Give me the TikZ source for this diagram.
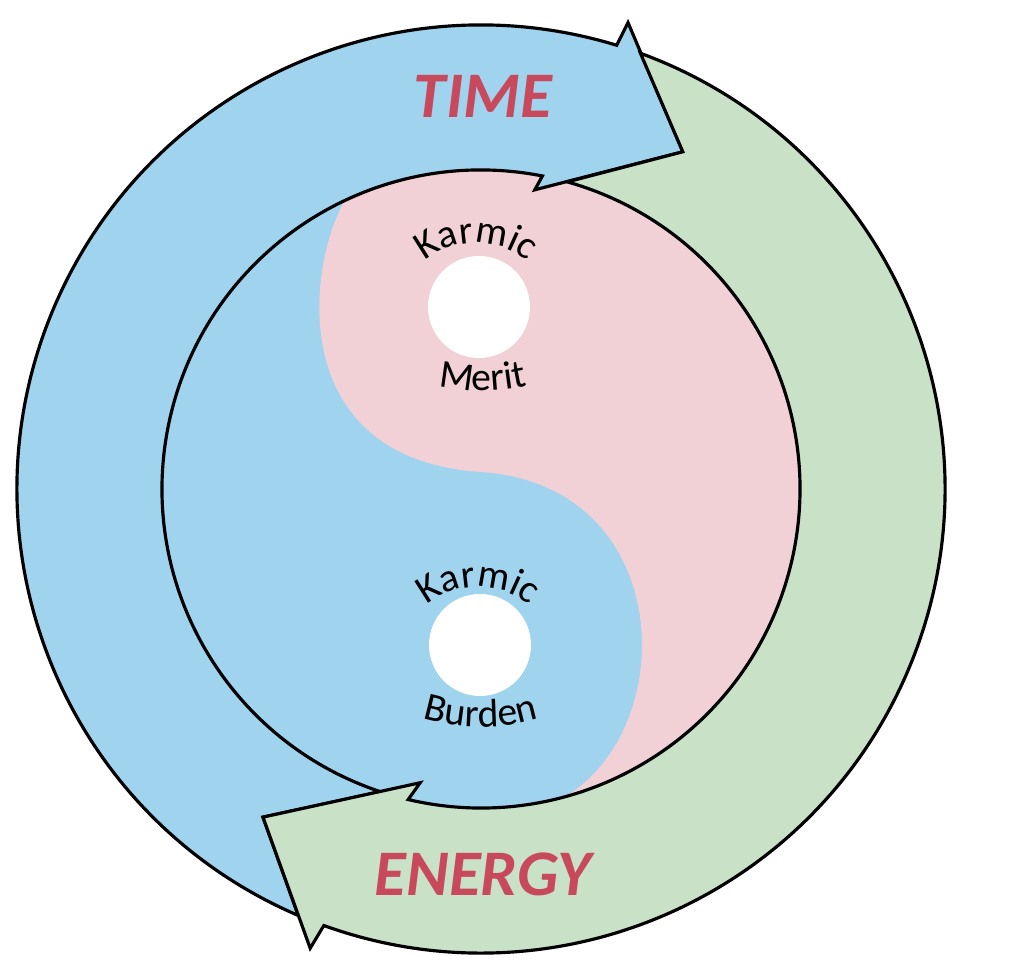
\documentclass[tikz,border=0pt]{standalone}
\usepackage{fontspec}
\setmainfont{Carlito}
\usepackage{xcolor}
\definecolor{timeblue}{RGB}{160,211,238}
\definecolor{energygreen}{RGB}{200,225,199}
\definecolor{meritpink}{RGB}{241,209,213}
\definecolor{labelred}{RGB}{200,72,92}
\usepackage{tikz}
\usetikzlibrary{decorations.text}

\begin{document}
\begin{tikzpicture}[
	ring/.style={draw=black, line width=0.9pt, line join=miter},
	big/.style={font=\fontsize{18.5}{20}\selectfont\bfseries\itshape, text=labelred, inner sep=0pt},
	hole/.style={circle, fill=white, inner sep=0pt, minimum size=1.02cm},
	arcword/.style={decorate, decoration={text along path, text align=center,
	                text={|\fontsize{11.3}{12}\selectfont|#1}}}
	]
\useasboundingbox (-4.81,-4.79) rectangle (5.55,4.89);

% the two arrow tips
\coordinate (timetip) at (59.1:3.93);
\coordinate (energytip) at (236.4:3.94);

% inner disc, split in two
\fill[timeblue] (0,0) circle (3.19);
\fill[meritpink] (115.3:3.19) .. controls (-1.75,2.2) and (-1.95,0.3) .. (0,0.17)
	.. controls (1.95,0.04) and (2.0,-2.4) .. (-74.8:3.19)
	arc[start angle=-74.8, end angle=115.3, radius=3.19] -- cycle;

% time arrow
\filldraw[ring, fill=timeblue] (246.8:4.64) arc[start angle=246.8, end angle=73, radius=4.64]
	-- (72.5:4.89) -- (timetip) -- (79.8:3.04) -- (78.9:3.19)
	arc[start angle=78.9, end angle=251.6, radius=3.19] -- (energytip) -- cycle;

% energy arrow
\filldraw[ring, fill=energygreen] (69.9:4.64) arc[start angle=69.9, end angle=-109.8, radius=4.64]
	-- (249.6:4.90) -- (energytip) -- (258.3:3.00) -- (256.8:3.19)
	arc[start angle=-103.2, end angle=74.3, radius=3.19] -- (timetip) -- cycle;

\node[big] (time) at (0.02,3.93) {TIME};
\node[big] (energy) at (0.02,-3.85) {ENERGY};

% karmic dots
\node[hole] (merit) at (-0.02,1.82) {};
\node[hole] (burden) at (-0.01,-1.56) {};
\path[arcword=Karmic] (-0.05,1.66) ++(150:0.8) arc[start angle=150, end angle=30, radius=0.8];
\path[arcword=Merit] (0.02,2.98) ++(250:2) arc[start angle=250, end angle=290, radius=2];
\path[arcword=Karmic] (-0.03,-1.78) ++(150:0.8) arc[start angle=150, end angle=30, radius=0.8];
\path[arcword=Burden] (0,-0.38) ++(245:2) arc[start angle=245, end angle=295, radius=2];
\end{tikzpicture}
\end{document}
